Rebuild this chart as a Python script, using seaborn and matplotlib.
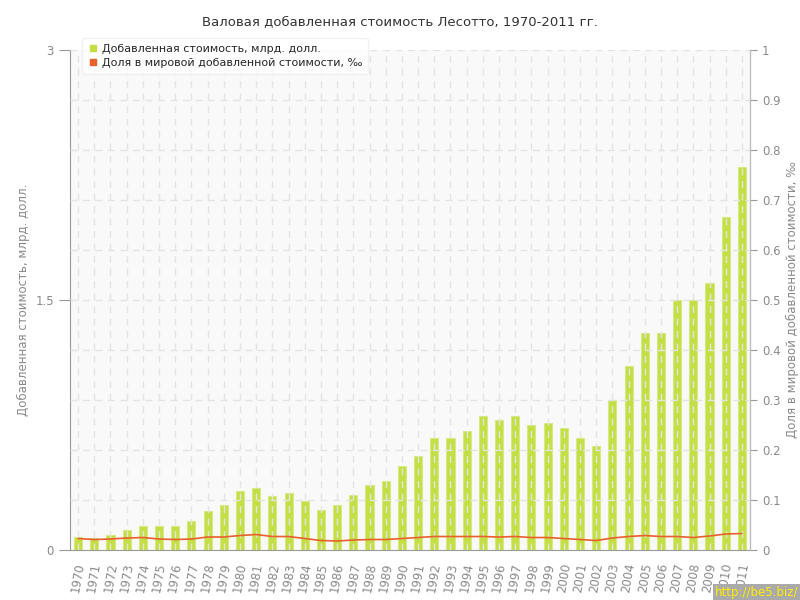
import numpy as np
import pandas as pd
import seaborn as sns
import matplotlib.pyplot as plt
from matplotlib.lines import Line2D

# ==== Data ====
years = [str(y) for y in range(1970, 2012)]
value_bn = [0.078, 0.074, 0.088, 0.122, 0.142, 0.142, 0.142, 0.174, 0.234, 0.272,
            0.352, 0.372, 0.322, 0.344, 0.294, 0.242, 0.272, 0.332, 0.392, 0.412,
            0.504, 0.564, 0.672, 0.672, 0.712, 0.802, 0.782, 0.802, 0.752, 0.762,
            0.732, 0.672, 0.622, 0.900, 1.102, 1.302, 1.302, 1.500, 1.500, 1.600,
            2.000, 2.300]
share_permille = [0.023, 0.021, 0.022, 0.024, 0.025, 0.022, 0.021, 0.022, 0.026, 0.026,
                  0.029, 0.031, 0.027, 0.027, 0.023, 0.019, 0.018, 0.020, 0.021, 0.021,
                  0.023, 0.025, 0.027, 0.027, 0.027, 0.027, 0.026, 0.027, 0.025, 0.025,
                  0.023, 0.021, 0.019, 0.024, 0.027, 0.029, 0.027, 0.027, 0.025, 0.028,
                  0.032, 0.033]

df = pd.DataFrame({"year": years, "value": value_bn, "share": share_permille})

BAR = "#c4df45"
LINE = "#e8602c"
GRID = "#e4e4e4"
TXT = "#8a8a8a"

sns.set_style("white")
plt.rcParams['font.family'] = ['DejaVu Sans']

fig = plt.figure(figsize=(8, 6), dpi=100)
ax = fig.add_axes([0.0875, 0.0833, 0.85, 0.8334])
ax.set_facecolor("#f9f9f9")

sns.barplot(data=df, x="year", y="value", color=BAR, width=0.5,
            edgecolor="#d6ea84", linewidth=0.8, saturation=1, ax=ax, zorder=2)

ax.set_ylim(0, 3)
ax.set_xlim(-0.5, len(years) - 0.5)
ax.set_yticks([0, 1.5, 3])
ax.set_yticklabels(["0", "1.5", "3"])
ax.set_xlabel("")
ax.set_ylabel("Добавленная стоимость, млрд. долл.", color=TXT, fontsize=8.5)
ax.tick_params(axis="x", rotation=80, labelsize=8.5, colors=TXT, length=5, color="#999999")
ax.tick_params(axis="y", labelsize=8.5, colors=TXT, length=8, color="#999999")

# dashed grid drawn over the bars
for i in range(len(years)):
    ax.axvline(i, color=GRID, lw=1, ls=(0, (5, 4)), zorder=3)
for yv in np.arange(0.3, 3.01, 0.3):
    ax.axhline(yv, color=GRID, lw=1, ls=(0, (5, 4)), zorder=3)

ax.spines["top"].set_visible(False)
for s in ["left", "bottom", "right"]:
    ax.spines[s].set_color("#999999")

ax2 = ax.twinx()
sns.pointplot(data=df, x="year", y="share", color=LINE, markers="",
              linewidth=1.2, ax=ax2)
ax2.set_ylim(0, 1)
ax2.set_xlim(-0.5, len(years) - 0.5)
ax2.set_yticks(np.round(np.arange(0, 1.01, 0.1), 1))
ax2.set_yticklabels(["0"] + [f"{v:.1f}" for v in np.arange(0.1, 0.95, 0.1)] + ["1"])
ax2.set_ylabel("Доля в мировой добавленной стоимости, ‰", color=TXT, fontsize=8.5)
ax2.tick_params(axis="y", labelsize=8.5, colors=TXT, length=5, color="#999999")
ax2.set_xlabel("")
for s in ["top", "left", "bottom"]:
    ax2.spines[s].set_visible(False)
ax2.spines["right"].set_color("#bbbbbb")

fig.suptitle("Валовая добавленная стоимость Лесотто, 1970-2011 гг.",
             y=0.975, fontsize=9.5, color="#333333")

handles = [Line2D([], [], marker="s", ls="", color=BAR, markersize=5),
           Line2D([], [], marker="s", ls="", color=LINE, markersize=5)]
leg = ax2.legend(handles, ["Добавленная стоимость, млрд. долл.",
                           "Доля в мировой добавленной стоимости, ‰"],
                 loc="upper left", bbox_to_anchor=(0.01, 1.035), fontsize=8,
                 frameon=True, fancybox=True, handletextpad=0.3,
                 borderpad=0.5, labelspacing=0.4, handlelength=1)
leg.get_frame().set_edgecolor("#eeeeee")
leg.get_frame().set_facecolor("white")
leg.set_zorder(10)

fig.text(0.998, 0.002, "http://be5.biz/", ha="right", va="bottom",
         color="#ffee00", fontsize=8.5,
         bbox=dict(facecolor="#aaaaaa", edgecolor="none", pad=1.5))

fig.savefig("out.png", dpi=100)
